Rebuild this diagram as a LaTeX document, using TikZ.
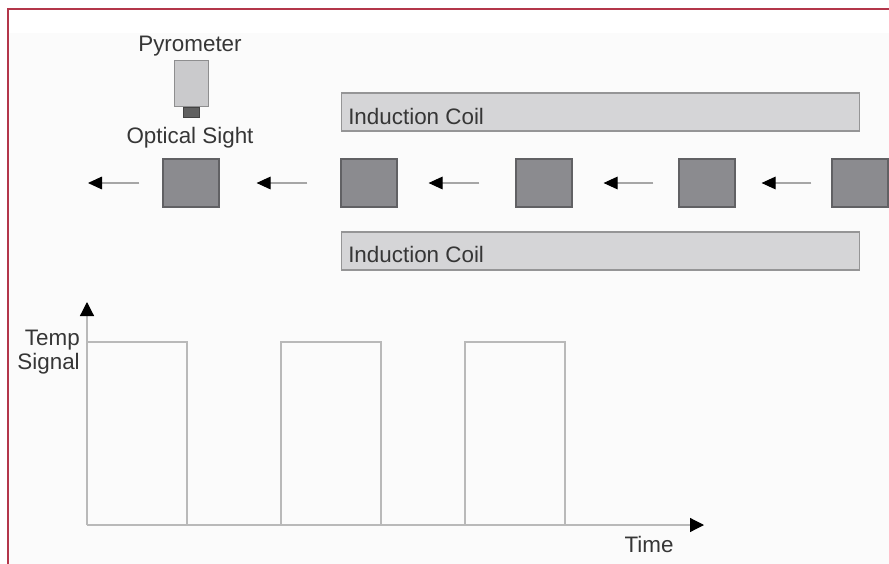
\documentclass[tikz,border=0pt]{standalone}
\usepackage{fontspec}
\setmainfont{Liberation Sans}
\usetikzlibrary{positioning, arrows.meta}

\definecolor{frame}{HTML}{B3364A}
\definecolor{block}{HTML}{8B8B8F}
\definecolor{coil}{HTML}{D5D5D7}
\definecolor{ink}{HTML}{363636}

\tikzset{
  part/.style={draw=#1!70!black, fill=#1, inner sep=0pt, line width=0.9pt},
  label/.style={font=\fontsize{16.8}{18}\selectfont, text=ink, inner sep=0pt},
  feed/.style={draw=gray!70, line width=0.8pt, -{Triangle[length=10.5pt,width=9.5pt,black]}},
  axis/.style={draw=gray!55, line width=0.9pt, -{Triangle[length=10.5pt,width=10.5pt,black]}},
  pulse/.style={draw=gray!55, line width=0.9pt}
}

\begin{document}
\begin{tikzpicture}[x=0.75pt, y=-0.75pt]
  \clip (0,0) rectangle (889,564);
  \fill[white] (0,0) rectangle (889,564);
  \fill[gray!3] (9,33) rectangle (889,564);
  \draw[frame, line width=1.5pt] (8,564) -- (8,9) -- (889,9);

  % pyrometer
  \node[label] (pyro label) at (190,46) {Pyrometer};
  \node[part=coil!95!black, minimum width=26pt, minimum height=34.5pt] (pyro) at (191.5,83.5) {};
  \node[part=gray!75!black, minimum width=12pt, minimum height=7.5pt, below=0pt of pyro] (lens) {};
  \node[label] (sight label) at (190,138) {Optical Sight};

  % induction coils
  \node[part=coil, minimum width=389pt, minimum height=28.5pt] (coil top) at (600.5,112) {};
  \node[part=coil, minimum width=389pt, minimum height=28.5pt] (coil bottom) at (600.5,251) {};
  \node[label, anchor=base west] at (348,124) {Induction Coil};
  \node[label, anchor=base west] at (348,262) {Induction Coil};

  % work pieces
  \foreach \n/\x in {1/191, 2/369, 3/544, 4/707, 5/860}
    \node[part=block, minimum width=42pt, minimum height=36pt] (w\n) at (\x,183) {};
  \coordinate (exit) at (88,183);

  \draw[feed, shorten <=23*0.75pt] (w1.west) -- (exit);
  \draw[feed, shorten <=33*0.75pt, shorten >=37*0.75pt] (w2.west) -- (w1.east);
  \draw[feed, shorten <=36*0.75pt, shorten >=31*0.75pt] (w3.west) -- (w2.east);
  \draw[feed, shorten <=25*0.75pt, shorten >=31*0.75pt] (w4.west) -- (w3.east);
  \draw[feed, shorten <=20*0.75pt, shorten >=26*0.75pt] (w5.west) -- (w4.east);

  % signal plot
  \coordinate (origin) at (87,525);
  \coordinate (ytop) at (87,302);
  \coordinate (xend) at (704,525);
  \draw[axis] (origin) -- (ytop);
  \draw[axis] (origin) -- (xend);
  \draw[pulse] (87,342) -- (187,342) -- (187,525)
               (281,525) -- (281,342) -- (381,342) -- (381,525)
               (465,525) -- (465,342) -- (565,342) -- (565,525);
  \node[label, anchor=base east, align=right] (temp) at (80,369) {Temp\\[0pt]Signal};
  \node[label, anchor=base] (time) at (649,552) {Time};
\end{tikzpicture}
\end{document}
